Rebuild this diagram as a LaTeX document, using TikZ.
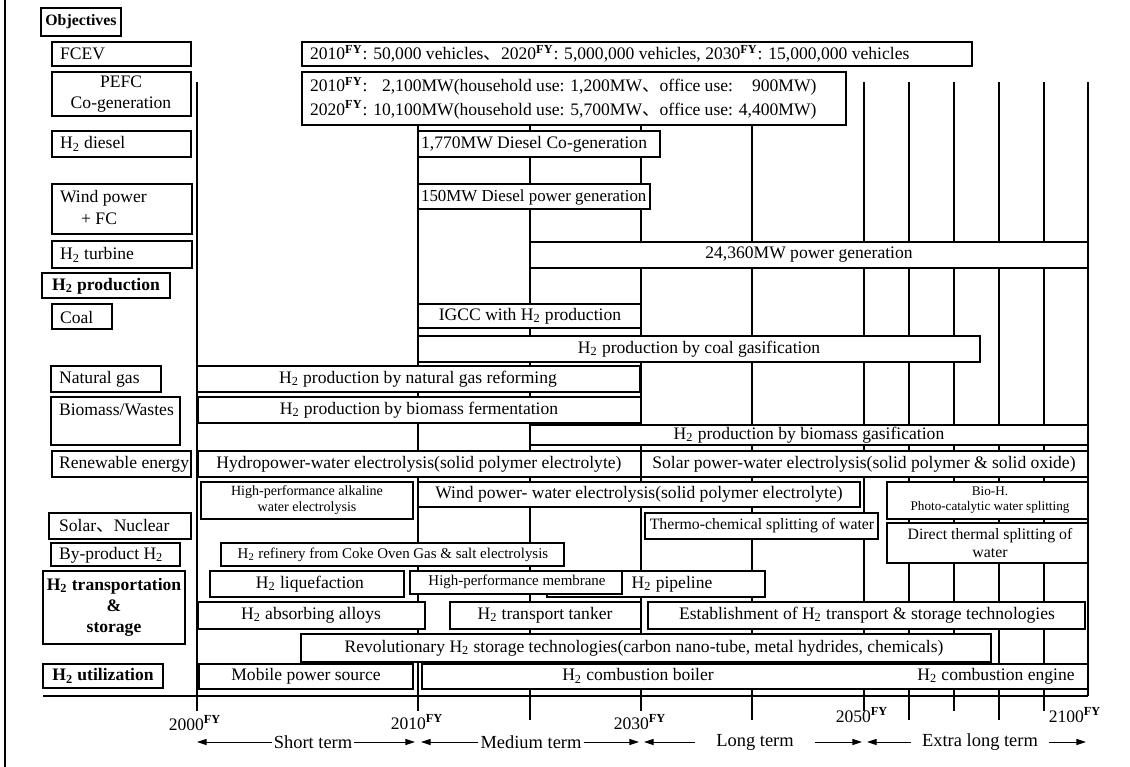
\documentclass[tikz,border=0pt]{standalone}
\usepackage{fontspec}
\setmainfont{Liberation Serif}
\newfontfamily\cjkfont{Noto Sans CJK JP}
\usetikzlibrary{arrows.meta}
\newcommand{\Htwo}{H\textsubscript{2}}
\newcommand{\FYsup}{\textsuperscript{\textbf{FY}}}
\newcommand{\jcomma}{{\cjkfont 、}}

\begin{document}
\begin{tikzpicture}[x=0.02cm, y=-0.02cm,
    ganttbar/.style={draw, fill=white, line width=0.7pt},
    lbl/.style={font=\fontsize{10}{12}\selectfont, inner sep=1pt},
    boldlbl/.style={font=\fontsize{10}{12}\selectfont\bfseries, inner sep=1pt},
    smalltxt/.style={font=\fontsize{8}{9.5}\selectfont, inner sep=1pt},
    yearline/.style={line width=0.6pt},
    termtxt/.style={font=\fontsize{10.5}{12}\selectfont, inner sep=1pt},
    tip/.style={-{Triangle[length=5.5pt,width=3.5pt]}, line width=0.5pt}]
    \useasboundingbox (0,0) rectangle (1130,767);
    \draw[line width=1.5pt] (5,0) -- (5,767);

    % year grid and axis
    \foreach \xx/\yend in {197/711, 418/711, 530/720, 641/711, 752/720, 864/711, 909/720, 954/711, 999/720, 1044/711, 1088/696}
        \draw[yearline] (\xx,82) -- (\xx,\yend);
    \draw[yearline] (43,696) -- (1088,696);

    % Objectives
    \draw[ganttbar] (41,8) rectangle (121,36);
    \node[boldlbl, font=\fontsize{9}{11}\selectfont\bfseries] (objectives) at (81,22) {Objectives};

    \draw[ganttbar] (52,42) rectangle (191,66);
    \node[lbl, anchor=west] (fcev) at (58,54) {FCEV};
    \draw[ganttbar] (302,42) rectangle (972,66);
    \node[lbl, anchor=west] (fcevgoal) at (308,54) {2010\FYsup: 50,000 vehicles\jcomma 2020\FYsup: 5,000,000 vehicles, 2030\FYsup: 15,000,000 vehicles};

    \draw[ganttbar] (52,72) rectangle (191,116);
    \node[lbl, align=center, font=\fontsize{10}{11.5}\selectfont] (pefc) at (121,94) {PEFC\\Co-generation};
    \draw[ganttbar] (302,72) rectangle (846,125);
    \node[lbl, anchor=west, align=left, font=\fontsize{10}{13.6}\selectfont] (pefcgoal) at (308,98) {2010\FYsup: \phantom{1}2,100MW(household use: 1,200MW\jcomma office use: \phantom{4,}900MW)\\2020\FYsup: 10,100MW(household use: 5,700MW\jcomma office use: 4,400MW)};

    \draw[ganttbar] (52,131) rectangle (191,157);
    \node[lbl, anchor=west] (hdiesel) at (58,144) {\Htwo{} diesel};
    \draw[ganttbar] (418,131) rectangle (660,157);
    \node[lbl, anchor=west] (dieselcogen) at (419,144) {1,770MW Diesel Co-generation};

    \draw[ganttbar] (52,184) rectangle (192,234);
    \node[lbl, anchor=north west, align=left, font=\fontsize{10}{12.5}\selectfont] (windfc) at (58,188) {Wind power\\\hspace*{1.2em}+ FC};
    \draw[ganttbar] (418,184) rectangle (650,209);
    \node[lbl, anchor=west, font=\fontsize{9.6}{11}\selectfont] (dieselpower) at (419,197) {150MW Diesel power generation};

    \draw[ganttbar] (52,241) rectangle (192,268);
    \node[lbl, anchor=west] (hturbine) at (58,255) {\Htwo{} turbine};
    \draw[ganttbar] (530,242) rectangle (1088,268);
    \node[lbl] (turbinegoal) at (809,255) {24,360MW power generation};

    % H2 production
    \draw[ganttbar] (42,273) rectangle (170,298);
    \node[boldlbl] (hproduction) at (106,286) {\Htwo{} production};

    \draw[ganttbar] (52,304) rectangle (112,329);
    \node[lbl, anchor=west] (coal) at (58,317) {Coal};
    \draw[ganttbar] (418,304) rectangle (641,328);
    \node[lbl] (igcc) at (530,316) {IGCC with \Htwo{} production};
    \draw[ganttbar] (418,336) rectangle (980,362);
    \node[lbl] (coalgas) at (699,349) {\Htwo{} production by coal gasification};

    \draw[ganttbar] (51,366) rectangle (161,392);
    \node[lbl, anchor=west] (natgas) at (57,379) {Natural gas};
    \draw[ganttbar, line width=1.2pt] (197,366) rectangle (640,392);
    \node[lbl] (reforming) at (418,379) {\Htwo{} production by natural gas reforming};

    \draw[ganttbar] (51,397) rectangle (180,445);
    \node[lbl, anchor=west] (biomass) at (57,410) {Biomass/Wastes};
    \draw[ganttbar] (198,397) rectangle (641,423);
    \node[lbl] (fermentation) at (419,410) {\Htwo{} production by biomass fermentation};
    \draw[ganttbar] (530,425) rectangle (1088,445);
    \node[lbl] (gasification) at (809,435) {\Htwo{} production by biomass gasification};

    \draw[ganttbar] (52,451) rectangle (191,477);
    \node[lbl, anchor=west] (renewable) at (57,464) {Renewable energy};
    \draw[ganttbar] (198,451) rectangle (641,477);
    \node[lbl] (hydro) at (419,464) {Hydropower-water electrolysis(solid polymer electrolyte)};
    \draw[ganttbar] (641,451) rectangle (1088,477);
    \node[lbl] (solarpower) at (864,464) {Solar power-water electrolysis(solid polymer \& solid oxide)};

    \draw[ganttbar] (201,482) rectangle (413,519);
    \node[smalltxt, align=center] (alkaline) at (307,500) {High-performance alkaline\\water electrolysis};
    \draw[ganttbar] (418,482) rectangle (860,507);
    \node[lbl] (windelec) at (639,494) {Wind power- water electrolysis(solid polymer electrolyte)};
    \draw[ganttbar] (887,482) rectangle (1088,519);
    \node[smalltxt, align=center, font=\fontsize{7.5}{9}\selectfont] (bioh) at (990,500) {Bio-H.\\Photo-catalytic water splitting};

    \draw[ganttbar] (49,513) rectangle (191,539);
    \node[lbl, anchor=west] (solarnuclear) at (57,526) {Solar\jcomma Nuclear};
    \draw[ganttbar] (645,513) rectangle (878,539);
    \node[lbl, font=\fontsize{9}{11}\selectfont] (thermochem) at (762,526) {Thermo-chemical splitting of water};
    \draw[ganttbar] (887,523) rectangle (1088,563);
    \node[lbl, align=center, font=\fontsize{9}{10.2}\selectfont] (directthermal) at (990,543) {Direct thermal splitting of\\water};

    \draw[ganttbar] (51,543) rectangle (180,566);
    \node[lbl, anchor=west] (byproduct) at (57,555) {By-product \Htwo};
    \draw[ganttbar] (221,543) rectangle (564,566);
    \node[smalltxt, font=\fontsize{8.5}{10}\selectfont] (refinery) at (393,555) {\Htwo{} refinery from Coke Oven Gas \& salt electrolysis};

    % H2 transportation & storage
    \draw[ganttbar] (43,571) rectangle (185,644);
    \node[boldlbl, align=center] (transport) at (114,607) {\Htwo{} transportation\\\&\\storage};

    \draw[ganttbar] (210,571) rectangle (404,597);
    \node[lbl] (liquefaction) at (310,584) {\Htwo{} liquefaction};
    \draw[ganttbar] (547,571) rectangle (765,597);
    \node[lbl] (pipeline) at (672,584) {\Htwo{} pipeline};
    \draw[ganttbar] (410,571) rectangle (622,594);
    \node[smalltxt, font=\fontsize{8.5}{10}\selectfont] (membrane) at (517,582) {High-performance membrane};

    \draw[ganttbar] (198,602) rectangle (425,629);
    \node[lbl] (alloys) at (311,615) {\Htwo{} absorbing alloys};
    \draw[ganttbar] (450,602) rectangle (641,629);
    \node[lbl] (tanker) at (545,615) {\Htwo{} transport tanker};
    \draw[ganttbar] (648,602) rectangle (1085,629);
    \node[lbl] (establish) at (867,615) {Establishment of \Htwo{} transport \& storage technologies};
    \draw[ganttbar] (301,634) rectangle (991,662);
    \node[lbl] (revolution) at (644,648) {Revolutionary \Htwo{} storage technologies(carbon nano-tube, metal hydrides, chemicals)};

    % H2 utilization
    \draw[ganttbar] (43,664) rectangle (163,688);
    \node[boldlbl] (utilization) at (103,676) {\Htwo{} utilization};
    \draw[ganttbar] (199,664) rectangle (413,689);
    \node[lbl] (mobile) at (306,676) {Mobile power source};
    \draw[ganttbar] (422,664) rectangle (1088,689);
    \node[lbl] (boiler) at (638,676) {\Htwo{} combustion boiler};
    \node[lbl] (engine) at (996,676) {\Htwo{} combustion engine};

    % years
    \node[lbl, anchor=base] (y2000) at (195,730) {2000\FYsup};
    \node[lbl, anchor=base] (y2010) at (417,729) {2010\FYsup};
    \node[lbl, anchor=base] (y2030) at (640,729) {2030\FYsup};
    \node[lbl, anchor=base] (y2050) at (862,722) {2050\FYsup};
    \node[lbl, anchor=base] (y2100) at (1075,722) {2100\FYsup};

    % terms
    \node[termtxt] (short) at (313,742) {Short term};
    \node[termtxt] (medium) at (531,742) {Medium term};
    \node[termtxt, inner xsep=12pt] (long) at (755,742) {Long term};
    \node[termtxt, inner xsep=6pt] (extralong) at (980,742) {Extra long term};
    \coordinate (s2000) at (197,742);
    \coordinate (e2010) at (415,742);
    \coordinate (s2010) at (421,742);
    \coordinate (e2030) at (639,742);
    \coordinate (s2030) at (644,742);
    \coordinate (e2050) at (862,742);
    \coordinate (s2050) at (867,742);
    \coordinate (e2100) at (1086,742);
    \draw[tip] (short) -- (s2000);
    \draw[tip] (short) -- (e2010);
    \draw[tip] (medium) -- (s2010);
    \draw[tip] (medium) -- (e2030);
    \draw[tip] (long) -- (s2030);
    \draw[tip] (long) -- (e2050);
    \draw[tip] (extralong) -- (s2050);
    \draw[tip] (extralong) -- (e2100);
\end{tikzpicture}
\end{document}
